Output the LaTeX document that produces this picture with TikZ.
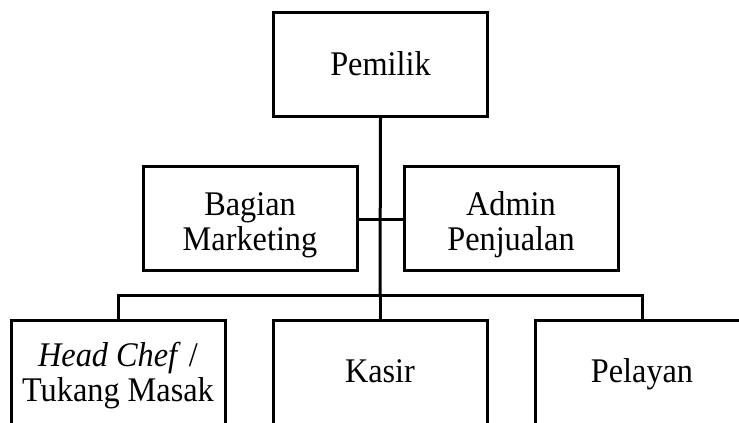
\documentclass[tikz,border=0pt]{standalone}
\usepackage{fontspec}
\setmainfont{Liberation Serif}
\newcommand{\stxt}[1]{\scalebox{1}[1.07]{\begin{tabular}{@{}c@{}}#1\end{tabular}}}
\begin{document}
\begin{tikzpicture}[x=1pt,y=-1pt,
  box/.style={draw=black,line width=3pt,rectangle,minimum width=214pt,minimum height=104pt,inner sep=0pt},
  lbl/.style={inner sep=0pt,font=\fontsize{32.3}{32.6}\selectfont},
  link/.style={draw=black,line width=3pt}]
\clip (0,0) rectangle (739,423);
\useasboundingbox (0,0) rectangle (739,423);
\node[box] (pemilik) at (380.5,64.5) {};
\node[lbl] (tpem) at (380.5,69) {\stxt{Pemilik}};
\node[box] (mkt) at (250,218) {};
\node[lbl] (tmkt) at (250,226) {\stxt{Bagian\\Marketing}};
\node[box] (adm) at (511,218) {};
\node[lbl] (tadm) at (511,226) {\stxt{Admin\\Penjualan}};
\node[box] (chef) at (118,372) {};
\node[lbl] (tchef) at (118,377) {\stxt{\textit{Head Chef} /\\Tukang Masak}};
\node[box] (kasir) at (380,372) {};
\node[lbl] (tkasir) at (380,376) {\stxt{Kasir}};
\node[box] (pel) at (642,372) {};
\node[lbl] (tpel) at (642,376) {\stxt{Pelayan}};
\coordinate (hub) at (380,295);
\coordinate (mid) at (380,219);
\draw[link] (pemilik.south) -- (hub);
\draw[link] (mkt.east |- mid) -- (adm.west |- mid);
\draw[link] (chef.north) -- (chef.north |- hub) -- (pel.north |- hub) -- (pel.north);
\draw[link] (hub) -- (kasir.north);
\end{tikzpicture}
\end{document}
